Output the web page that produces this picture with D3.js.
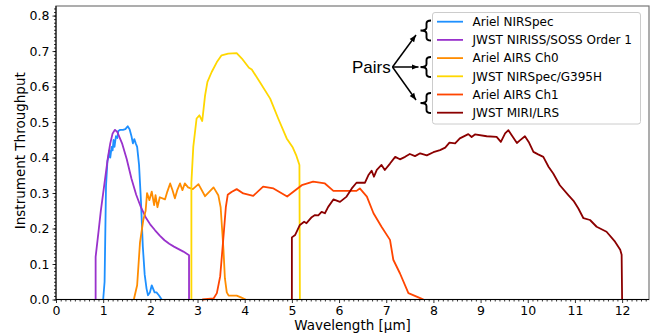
<!DOCTYPE html>
<html>
<head>
<meta charset="utf-8">
<script src="https://cdn.jsdelivr.net/npm/d3@7"></script>
<style>
  body { margin: 0; background: #fff; }
  svg { display: block; }
</style>
</head>
<body>
<div id="chart"></div>
<script>
// throughput curves, [wavelength (um), throughput]
var arielNirspec = [[1.00,0],[1.03,0.05],[1.06,0.32],[1.09,0.39],[1.11,0.40],[1.13,0.42],[1.15,0.40],[1.18,0.43],[1.20,0.42],[1.22,0.45],[1.24,0.43],[1.27,0.46],[1.30,0.455],[1.32,0.475],[1.36,0.478],[1.42,0.478],[1.47,0.48],[1.52,0.488],[1.56,0.48],[1.60,0.46],[1.63,0.44],[1.66,0.452],[1.69,0.44],[1.72,0.43],[1.76,0.38],[1.80,0.28],[1.84,0.15],[1.88,0.07],[1.92,0.03],[1.95,0.012],[1.99,0.02],[2.03,0.04],[2.06,0.03],[2.09,0.02],[2.13,0.02],[2.18,0.012],[2.24,0]];
var nirissSoss = [[0.84,0],[0.84,0.12],[0.9,0.19],[0.95,0.25],[1.0,0.30],[1.05,0.35],[1.1,0.40],[1.15,0.44],[1.2,0.468],[1.25,0.478],[1.3,0.472],[1.4,0.44],[1.5,0.395],[1.6,0.34],[1.7,0.295],[1.8,0.26],[1.9,0.232],[2.0,0.211],[2.1,0.195],[2.2,0.18],[2.3,0.167],[2.4,0.157],[2.5,0.149],[2.6,0.142],[2.7,0.135],[2.82,0.125],[2.82,0]];
var airsCh0 = [[1.65,0],[1.72,0.04],[1.78,0.16],[1.85,0.224],[1.90,0.25],[1.93,0.30],[1.98,0.28],[2.03,0.304],[2.08,0.266],[2.11,0.294],[2.15,0.26],[2.2,0.288],[2.31,0.282],[2.36,0.304],[2.42,0.327],[2.47,0.308],[2.52,0.285],[2.57,0.308],[2.63,0.327],[2.68,0.308],[2.73,0.327],[2.80,0.316],[2.9,0.311],[3.02,0.325],[3.16,0.291],[3.34,0.316],[3.44,0.294],[3.49,0.26],[3.52,0.2],[3.55,0.14],[3.58,0.06],[3.62,0.02],[3.66,0.011],[3.83,0.011],[3.92,0.006],[4.02,0]];
var nirspecG395h = [[2.87,0],[2.87,0.33],[2.91,0.43],[2.98,0.51],[3.04,0.519],[3.10,0.503],[3.16,0.575],[3.21,0.613],[3.30,0.641],[3.41,0.669],[3.51,0.688],[3.65,0.693],[3.83,0.694],[3.94,0.679],[4.09,0.653],[4.15,0.648],[4.32,0.613],[4.54,0.566],[4.71,0.51],[4.89,0.454],[5.02,0.428],[5.09,0.407],[5.16,0.379],[5.17,0]];
var airsCh1 = [[3.1,0],[3.34,0.003],[3.41,0.018],[3.48,0.065],[3.55,0.177],[3.60,0.26],[3.64,0.295],[3.72,0.303],[3.83,0.311],[3.97,0.299],[4.18,0.292],[4.39,0.318],[4.61,0.313],[4.9,0.29],[5.21,0.322],[5.45,0.332],[5.70,0.327],[5.88,0.306],[6.37,0.306],[6.44,0.313],[6.59,0.29],[6.73,0.243],[6.9,0.205],[7.08,0.168],[7.15,0.112],[7.29,0.074],[7.47,0.018],[7.72,0.004],[7.79,0]];
var miriLrs = [[5.0,0],[5.0,0.175],[5.07,0.182],[5.17,0.21],[5.26,0.219],[5.31,0.215],[5.42,0.232],[5.49,0.238],[5.56,0.237],[5.63,0.247],[5.70,0.243],[5.77,0.261],[5.88,0.282],[6.02,0.275],[6.16,0.29],[6.27,0.313],[6.37,0.329],[6.55,0.329],[6.62,0.35],[6.69,0.363],[6.74,0.346],[6.80,0.365],[6.90,0.379],[6.97,0.365],[7.08,0.383],[7.19,0.402],[7.29,0.395],[7.40,0.402],[7.50,0.41],[7.61,0.404],[7.72,0.412],[7.86,0.406],[8.0,0.415],[8.14,0.421],[8.25,0.428],[8.34,0.442],[8.46,0.44],[8.56,0.454],[8.74,0.466],[8.81,0.458],[8.88,0.465],[9.13,0.46],[9.34,0.458],[9.43,0.444],[9.52,0.468],[9.59,0.477],[9.66,0.463],[9.77,0.441],[9.84,0.449],[9.94,0.46],[10.02,0.444],[10.12,0.416],[10.22,0.409],[10.33,0.402],[10.44,0.374],[10.54,0.355],[10.68,0.322],[10.86,0.294],[10.97,0.278],[11.07,0.257],[11.18,0.229],[11.32,0.224],[11.46,0.205],[11.67,0.191],[11.85,0.163],[11.96,0.14],[11.99,0.126],[12.0,0]];

var seriesNames = ["Ariel NIRSpec", "JWST NIRISS/SOSS Order 1", "Ariel AIRS Ch0", "JWST NIRSpec/G395H", "Ariel AIRS Ch1", "JWST MIRI/LRS"];
var seriesData = [arielNirspec, nirissSoss, airsCh0, nirspecG395h, airsCh1, miriLrs];
var seriesColors = ["#1e90ff", "#9932cc", "#ff8c00", "#ffd700", "#ff4500", "#8b0000"];

var xTicks = [0,1,2,3,4,5,6,7,8,9,10,11,12];
var yTicks = [0,0.1,0.2,0.3,0.4,0.5,0.6,0.7,0.8];

var W = 657, H = 335;
var margin = {left: 56, right: 8, top: 6, bottom: 35.5};

var svg = d3.select("#chart").append("svg").attr("width", W).attr("height", H);

var x = d3.scaleLinear().domain([0, 12.57]).range([margin.left, W - margin.right]);
var y = d3.scaleLinear().domain([0, 0.827]).range([H - margin.bottom, margin.top]);

var font = "DejaVu Sans, sans-serif";

// plot frame (top/right lighter like matplotlib)
svg.append("rect")
    .attr("x", x.range()[0]).attr("y", y.range()[1])
    .attr("width", x.range()[1] - x.range()[0])
    .attr("height", y.range()[0] - y.range()[1])
    .style("fill", "none").style("stroke", "#777").style("stroke-width", 1.2);

// curves
var line = d3.line().x(function (d) { return x(d[0]); }).y(function (d) { return y(d[1]); });
var plot = svg.append("g");
seriesData.forEach(function (s, i) {
    plot.append("path").attr("d", line(s))
        .style("fill", "none").style("stroke", seriesColors[i])
        .style("stroke-width", 1.8).style("stroke-linejoin", "round");
});

// minor ticks
var xMinor = d3.range(0, 126).map(function (i) { return i / 10; }).filter(function (v) { return xTicks.indexOf(v) < 0; });
var yMinor = d3.range(0, 83).map(function (i) { return i / 100; });
var xAxisMinor = d3.axisBottom(x).tickValues(xMinor).tickSize(2).tickFormat("");
var yAxisMinor = d3.axisLeft(y).tickValues(yMinor).tickSize(2).tickFormat("");
svg.append("g").attr("transform", "translate(0," + y.range()[0] + ")").call(xAxisMinor);
svg.append("g").attr("transform", "translate(" + x.range()[0] + ",0)").call(yAxisMinor);

// major axes
var xAxis = d3.axisBottom(x).tickValues(xTicks).tickSize(3.5).tickPadding(3).tickFormat(d3.format("d"));
var yAxis = d3.axisLeft(y).tickValues(yTicks).tickSize(3.5).tickPadding(3).tickFormat(d3.format(".1f"));
svg.append("g").attr("transform", "translate(0," + y.range()[0] + ")").call(xAxis);
svg.append("g").attr("transform", "translate(" + x.range()[0] + ",0)").call(yAxis);
svg.selectAll(".domain").remove();
svg.selectAll(".tick line").style("stroke", "#000").style("stroke-width", 0.8);
svg.selectAll(".tick text").style("font-family", font).style("font-size", "12.5px").style("fill", "#000");

svg.append("line")
    .attr("x1", x.range()[0]).attr("x2", x.range()[1])
    .attr("y1", y.range()[0]).attr("y2", y.range()[0])
    .style("stroke", "#000").style("stroke-width", 1);
svg.append("line")
    .attr("x1", x.range()[0]).attr("x2", x.range()[0])
    .attr("y1", y.range()[0]).attr("y2", y.range()[1])
    .style("stroke", "#000").style("stroke-width", 1);

// axis titles
svg.append("text").text("Wavelength [\u03bcm]")
    .attr("x", (x.range()[0] + x.range()[1]) / 2).attr("y", 329.5)
    .style("text-anchor", "middle").style("font-family", font).style("font-size", "13.5px");
svg.append("text").text("Instrument Throughput")
    .attr("transform", "translate(25," + ((y.range()[0] + y.range()[1]) / 2 - 2) + ") rotate(-90)")
    .style("text-anchor", "middle").style("font-family", font).style("font-size", "13.5px");

// legend
var lg = svg.append("g");
lg.append("rect").attr("x", 432.5).attr("y", 12.5).attr("width", 208).attr("height", 111.5)
    .attr("rx", 2.5).style("fill", "#fff").style("fill-opacity", 0.8)
    .style("stroke", "#ccc").style("stroke-width", 1);
seriesNames.forEach(function (name, i) {
    var ly = 21.7 + i * 18.2;
    lg.append("line").attr("x1", 437).attr("x2", 463).attr("y1", ly).attr("y2", ly)
        .style("stroke", seriesColors[i]).style("stroke-width", 1.8);
    lg.append("text").text(name).attr("x", 472.5).attr("y", ly + 4.3)
        .style("font-family", font).style("font-size", "12px").style("fill", "#000");
});

// "Pairs" annotation with brackets and arrows
var ann = svg.append("g");
var defs = svg.append("defs");
defs.append("marker").attr("id", "arrowhead")
    .attr("viewBox", "0 0 10 10").attr("refX", 10).attr("refY", 5)
    .attr("markerWidth", 7).attr("markerHeight", 7).attr("markerUnits", "userSpaceOnUse")
    .attr("orient", "auto")
    .append("path").attr("d", "M0,1 L10,5 L0,9 Z").style("fill", "#000");

ann.append("text").text("Pairs").attr("x", 352).attr("y", 73.3)
    .style("font-family", "Liberation Sans, Arial, sans-serif").style("font-size", "17px");

var arrowFrom = [392.5, 67];
var arrowTo = [[416, 35], [418.5, 67], [416, 100]];
arrowTo.forEach(function (t) {
    ann.append("line").attr("x1", arrowFrom[0]).attr("y1", arrowFrom[1])
        .attr("x2", t[0]).attr("y2", t[1])
        .style("stroke", "#000").style("stroke-width", 1.5)
        .attr("marker-end", "url(#arrowhead)");
});

var braces = [[20.5, 40.5], [57, 77], [93, 113]];
braces.forEach(function (b) {
    var top = b[0], bot = b[1], mid = (top + bot) / 2, xr = 431, xv = 426.5, xn = 420.5;
    var p = "M" + xr + "," + top +
        " Q" + xv + "," + top + " " + xv + "," + (top + 3) +
        " L" + xv + "," + (mid - 3) +
        " Q" + xv + "," + mid + " " + xn + "," + mid +
        " Q" + xv + "," + mid + " " + xv + "," + (mid + 3) +
        " L" + xv + "," + (bot - 3) +
        " Q" + xv + "," + bot + " " + xr + "," + bot;
    ann.append("path").attr("d", p).style("fill", "none").style("stroke", "#000").style("stroke-width", 1.9);
});
</script>
</body>
</html>
